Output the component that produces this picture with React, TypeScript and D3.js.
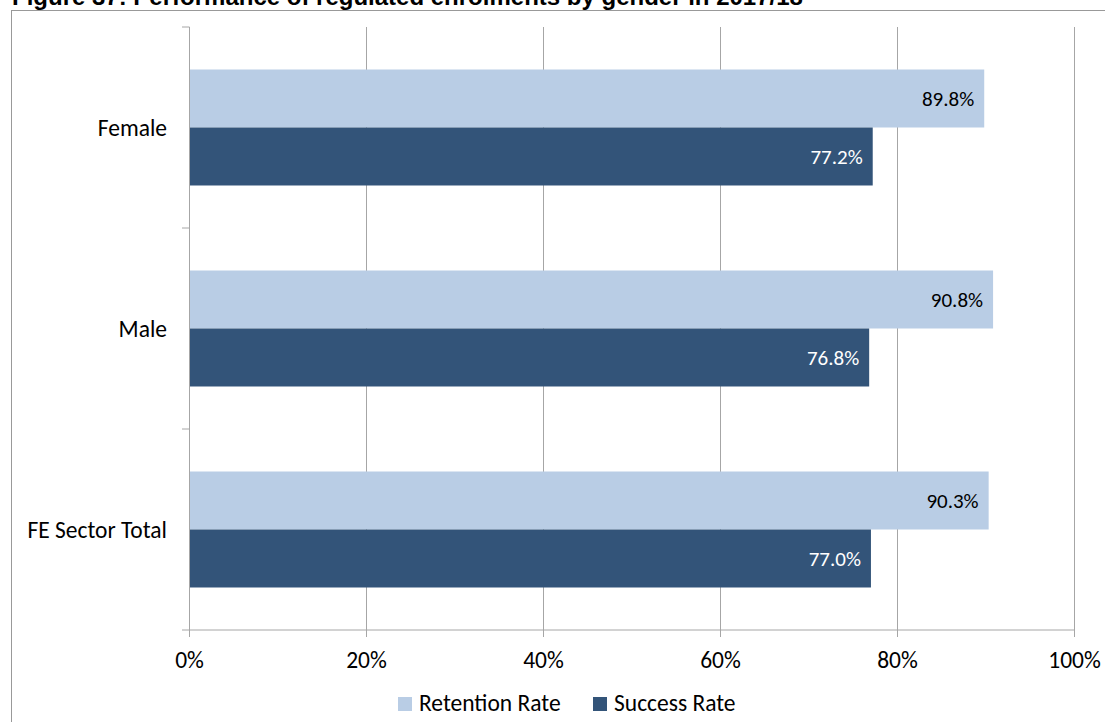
import React from "react";
import * as d3 from "d3";

const categories = ["Female", "Male", "FE Sector Total"];
const seriesNames = ["Retention Rate", "Success Rate"];
const retention = [89.8, 90.8, 90.3];
const success = [77.2, 76.8, 77.0];
const xTicks = [0, 20, 40, 60, 80, 100];

const W = 1105;
const H = 722;
const colors = ["#B9CDE5", "#335479"];
const labelColors = ["#000000", "#FFFFFF"];

export default function App() {
  const x = d3.scaleLinear().domain([0, 100]).range([189.5, 1074.5]);
  const y = d3.scaleBand().domain(categories).range([27, 630]).paddingInner(0).paddingOuter(0);
  const inner = d3.scaleBand().domain(seriesNames).range([0, y.bandwidth()]).paddingInner(0).paddingOuter(0.733);
  const series = [retention, success];
  const font = "Carlito, Calibri, 'Open Sans', 'Liberation Sans', sans-serif";
  const yTickPos = [27, ...categories.map((c) => (y(c) as number) + y.bandwidth())];

  return (
    <svg width={W} height={H} style={{ position: "absolute", left: 0, top: 0, background: "#fff" }}>
      <text x={12} y={5} fontFamily="'Liberation Sans', Arial, sans-serif" fontWeight="bold" fontSize={24} fill="#000">
        Figure 37: Performance of regulated enrolments by gender in 2017/18
      </text>
      <rect x={11.5} y={10.5} width={W} height={H} fill="none" stroke="#999" strokeWidth={1} />
      {xTicks.slice(1).map((t) => (
        <line key={"g" + t} x1={x(t)} x2={x(t)} y1={27} y2={630} stroke="#A6A6A6" strokeWidth={1} />
      ))}
      {categories.map((c, ci) =>
        series.map((s, si) => {
          const y0 = (y(c) as number) + (inner(seriesNames[si]) as number);
          const bh = inner.bandwidth();
          return (
            <g key={c + si}>
              <rect x={x(0)} y={y0} width={x(s[ci]) - x(0)} height={bh} fill={colors[si]} />
              <text
                x={x(s[ci]) - 10}
                y={y0 + bh / 2}
                dy="0.35em"
                textAnchor="end"
                fontFamily={font}
                fontSize={21}
                fill={labelColors[si]}
              >
                {s[ci].toFixed(1) + "%"}
              </text>
            </g>
          );
        })
      )}
      <line x1={x(0)} x2={x(0)} y1={27} y2={630} stroke="#A6A6A6" strokeWidth={1} />
      <line x1={x(0)} x2={x(100)} y1={630} y2={630} stroke="#A6A6A6" strokeWidth={1} />
      {yTickPos.map((p, i) => (
        <line key={"yt" + i} x1={182} x2={x(0)} y1={p} y2={p} stroke="#A6A6A6" strokeWidth={1} />
      ))}
      {xTicks.map((t) => (
        <g key={"xt" + t}>
          <line x1={x(t)} x2={x(t)} y1={630} y2={637} stroke="#A6A6A6" strokeWidth={1} />
          <text x={x(t)} y={668} textAnchor="middle" fontFamily={font} fontSize={23.5} fill="#000">
            {t + "%"}
          </text>
        </g>
      ))}
      {categories.map((c) => (
        <text
          key={"cl" + c}
          x={167}
          y={(y(c) as number) + y.bandwidth() / 2}
          dy="0.35em"
          textAnchor="end"
          fontFamily={font}
          fontSize={23.5}
          fill="#000"
        >
          {c}
        </text>
      ))}
      {seriesNames.map((n, i) => {
        const lx = i === 0 ? 398 : 593;
        return (
          <g key={"lg" + n}>
            <rect x={lx} y={697} width={14} height={14} fill={colors[i]} />
            <text x={lx + 21} y={711} fontFamily={font} fontSize={23.5} fill="#000">
              {n}
            </text>
          </g>
        );
      })}
    </svg>
  );
}
